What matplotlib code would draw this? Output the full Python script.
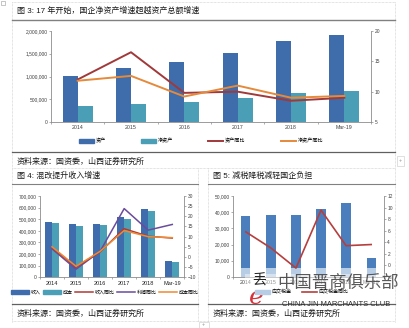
import matplotlib
matplotlib.use('Agg')
import matplotlib.pyplot as plt
from matplotlib.lines import Line2D
from matplotlib.patches import Patch, Rectangle
import numpy as np

plt.rcParams['font.family'] = ['Liberation Sans', 'Noto Sans CJK SC']

# figure 3: total assets vs net assets of SOEs
years = ['2014', '2015', '2016', '2017', '2018', 'Mar-19']
assets = [1018000, 1187000, 1311000, 1516000, 1780000, 1905000]
net_assets = [344000, 396000, 440000, 520000, 630000, 681000]
assets_yoy = [12.0, 16.5, 9.8, 10.0, 8.5, 9.0]
net_assets_yoy = [11.8, 12.6, 9.2, 11.0, 9.0, 9.3]

# figure 4: revenue / cost
revenue = [476000, 456000, 459000, 519000, 588000, 141000]
cost = [465000, 442000, 450000, 502000, 574000, 135000]
revenue_yoy = [4.6, -5.0, 2.5, 13.9, 10.2, 9.3]
profit_yoy = [4.0, -6.0, 2.8, 23.8, 13.2, 16.0]
cost_yoy = [5.0, -4.6, 2.8, 13.0, 10.0, 9.5]

# figure 5: taxes payable
tax = [37700, 38300, 38100, 42300, 46100, 11800]
tax_low = [5500, 5500, 5500, 5500, 5500, 5500]
tax_yoy = [5.8, 3.0, -0.5, 9.6, 3.4, 3.6]

W, H = 409, 328
fig = plt.figure(figsize=(W / 100, H / 100), dpi=100)

def fx(x):
    return x / W

def fy(y):
    return 1 - y / H

def rect(x0, y0, x1, y1):
    return [fx(x0), fy(y1), (x1 - x0) / W, (y1 - y0) / H]

def hline(y, x0, x1, color='#7f7f7f', lw=0.8, ls='-'):
    fig.add_artist(Line2D([fx(x0), fx(x1)], [fy(y), fy(y)], color=color, lw=lw, ls=ls))

def vline(x, y0, y1, color='#c8c8c8', lw=0.5, ls=(0, (1, 1))):
    fig.add_artist(Line2D([fx(x), fx(x)], [fy(y0), fy(y1)], color=color, lw=lw, ls=ls))

def style(ax, ax2):
    for s in ['top', 'right']:
        ax.spines[s].set_visible(False)
    for s in ['top', 'left', 'bottom']:
        ax2.spines[s].set_visible(False)
    for s in [ax.spines['left'], ax.spines['bottom'], ax2.spines['right']]:
        s.set_color('#8c8c8c')
        s.set_linewidth(0.6)
    for a in (ax, ax2):
        a.tick_params(axis='y', labelsize=3.5, colors='#8c8c8c', labelcolor='#404040',
                      length=1.6, width=0.5, pad=1)
    ax.tick_params(axis='x', which='major', length=0, labelsize=3.8, labelcolor='#404040', pad=2.5)
    ax.tick_params(axis='x', which='minor', length=1.6, width=0.5, colors='#8c8c8c')
    ax.set_xticks(range(len(years)))
    ax.set_xticklabels(years)
    ax.set_xticks(np.arange(-0.5, len(years), 1), minor=True)
    ax.set_xlim(-0.5, len(years) - 0.5)
    ax.yaxis.set_major_formatter(matplotlib.ticker.FuncFormatter(lambda v, p: f'{int(v):,}'))

x = np.arange(len(years))

# ---------- figure 3
ax3 = fig.add_axes(rect(51, 31, 371, 122))
ax3b = ax3.twinx()
ax3.bar(x - 0.142, assets, width=0.284, color='#3F6CAA', zorder=2)
ax3.bar(x + 0.142, net_assets, width=0.284, color='#4A9EB6', zorder=2)
ax3b.plot(x, assets_yoy, color='#A0393A', lw=1.4)
ax3b.plot(x, net_assets_yoy, color='#E5893B', lw=1.4)
ax3.set_ylim(0, 2000000)
ax3.set_yticks([0, 500000, 1000000, 1500000, 2000000])
ax3b.set_ylim(5, 20)
ax3b.set_yticks([5, 10, 15, 20])
style(ax3, ax3b)
h3 = [Patch(color='#3F6CAA'), Patch(color='#4A9EB6'),
      Line2D([], [], color='#A0393A', lw=1.4), Line2D([], [], color='#E5893B', lw=1.4)]
fig.legend(h3, ['资产', '净资产', '资产同比', '净资产同比'], loc='center',
           bbox_to_anchor=(fx(201), fy(141)), ncol=4, frameon=False, fontsize=3.7,
           handlelength=2.9, handleheight=0.9, handletextpad=0.3, columnspacing=6.9)

# ---------- figure 4
ax4 = fig.add_axes(rect(40, 196, 184.3, 277.3))
ax4b = ax4.twinx()
ax4.bar(x - 0.15, revenue, width=0.3, color='#3E6CAD', zorder=2)
ax4.bar(x + 0.15, cost, width=0.3, color='#4BA0B8', zorder=2)
ax4b.plot(x, profit_yoy, color='#6A4C9C', lw=1.1)
ax4b.plot(x, revenue_yoy, color='#B03A36', lw=1.1)
ax4b.plot(x, cost_yoy, color='#EE8A33', lw=1.1)
ax4.set_ylim(0, 700000)
ax4.set_yticks(range(0, 700001, 100000))
ax4b.set_ylim(-10, 30)
ax4b.set_yticks(range(-10, 31, 5))
style(ax4, ax4b)
ax4.tick_params(axis='x', labelsize=4.0, labelcolor='#202020')
h4 = [Patch(color='#3E6CAD'), Patch(color='#4BA0B8'),
      Line2D([], [], color='#B03A36', lw=1.1), Line2D([], [], color='#6A4C9C', lw=1.1),
      Line2D([], [], color='#EE8A33', lw=1.1)]
fig.legend(h4, ['收入', '成本', '收入同比', '利润同比', '成本同比'], loc='center',
           bbox_to_anchor=(fx(105), fy(292)), ncol=5, frameon=False, fontsize=3.6,
           handlelength=3.6, handleheight=0.9, handletextpad=0.4, columnspacing=0.4)

# ---------- figure 5
ax5 = fig.add_axes(rect(233.3, 196.3, 383.7, 276.7))
ax5b = ax5.twinx()
ax5.bar(x, tax_low, width=0.37, color='#B7CCE5', zorder=2)
ax5.bar(x, np.array(tax) - np.array(tax_low), bottom=tax_low, width=0.37,
        color='#4A7EBD', zorder=2)
ax5b.plot(x, tax_yoy, color='#B53F3D', lw=1.2)
ax5.set_ylim(0, 50000)
ax5.set_yticks(range(0, 50001, 10000))
ax5b.set_ylim(-2, 12)
ax5b.set_yticks(range(-2, 13, 2))
style(ax5, ax5b)
h5 = [Patch(color='#B7CCE5'), Line2D([], [], color='#B53F3D', lw=1.2)]
fig.legend(h5, ['应交税金', '应交税金同比'], loc='center',
           bbox_to_anchor=(fx(302), fy(292)), ncol=2, frameon=False, fontsize=3.6,
           handlelength=3.0, handleheight=0.9, handletextpad=0.4, columnspacing=2.0)

# ---------- page frame and captions
hline(2, 12, 395, color='#c8c8c8', lw=0.5, ls=(0, (1, 1)))
vline(12, 2, 322)
vline(395, 2, 322)
vline(198, 168, 322)
vline(208, 168, 322)
hline(19.5, 12, 395, color='#808080', lw=1.0)
hline(151.5, 12, 395, color='#606060', lw=0.9)
hline(168, 12, 395, color='#c8c8c8', lw=0.5, ls=(0, (1, 1)))
hline(184, 12, 198, color='#808080', lw=0.8)
hline(184, 208, 395, color='#808080', lw=0.8)
hline(304, 12, 198, color='#606060', lw=0.9)
hline(304, 208, 395, color='#606060', lw=0.9)
hline(321, 12, 395, color='#c8c8c8', lw=0.5, ls=(0, (1, 1)))
fig.add_artist(Rectangle((fx(0.5), fy(5)), 4 / W, 4.5 / H, fill=False, ec='#9a9a9a', lw=0.4))
fig.add_artist(Rectangle((fx(396.5), fy(166)), 7 / W, 10 / H, fill=False, ec='#c8c8c8', lw=0.4))
fig.text(fx(400), fy(160.5), '+', fontsize=4, color='#909090', ha='center', va='center')
fig.add_artist(Rectangle((fx(198.5), fy(328)), 10 / W, 6 / H, fill=False, ec='#c8c8c8', lw=0.4))
fig.text(fx(203.5), fy(324.5), '+', fontsize=4, color='#909090', ha='center', va='center')

fig.text(fx(17), fy(11), '图 3: 17 年开始，国企净资产增速超越资产总额增速', fontsize=5.8, color='#1a1a1a', va='center')
fig.text(fx(17), fy(162), '资料来源：国资委，山西证券研究所', fontsize=5.8, color='#1a1a1a', va='center')
fig.text(fx(17), fy(176), '图 4: 混改提升收入增速', fontsize=5.8, color='#1a1a1a', va='center')
fig.text(fx(213), fy(176), '图 5: 减税降税减轻国企负担', fontsize=5.8, color='#1a1a1a', va='center')
fig.text(fx(17), fy(314), '资料来源：国资委，山西证券研究所', fontsize=5.8, color='#1a1a1a', va='center')
fig.text(fx(213), fy(314), '资料来源：国资委，山西证券研究所', fontsize=5.8, color='#1a1a1a', va='center')

# ---------- watermark
fig.add_artist(Rectangle((fx(245), fy(318)), 155 / W, 44 / H, color='white', alpha=0.45, lw=0))
fig.text(fx(338), fy(283), '中国晋商俱乐部', fontsize=12.5, color='#3c3c3c', alpha=0.85,
         ha='center', va='center')
fig.text(fx(336), fy(305), 'CHINA JIN MARCHANTS CLUB', fontsize=5.4, color='#2a2a2a',
         ha='center', va='center')
fig.text(fx(256), fy(298), 'e', fontsize=18, color='#D8313A', style='italic',
         ha='center', va='center', family='DejaVu Serif')
fig.text(fx(259), fy(281), '丢', fontsize=10, color='#222222', ha='center', va='center')

fig.savefig('out.png', dpi=100)
